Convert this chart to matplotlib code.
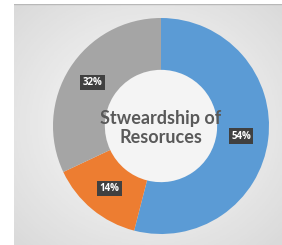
import numpy as np
import matplotlib.pyplot as plt

labels = ['Blue', 'Orange', 'Gray']
shares = [54, 14, 32]
colors = ['#5B9BD5', '#ED7D31', '#A5A5A5']
center_title = 'Stweardship of\nResoruces'

W, H = 282, 245
fig = plt.figure(figsize=(W / 100, H / 100), dpi=100)
fig.patch.set_facecolor('white')

# gradient background panel
bg = fig.add_axes([14 / W, 0, 1 - 14 / W, 1 - 4 / H])
yy, xx = np.mgrid[-1:1:200j, -1:1:200j]
rr = np.clip(np.sqrt(xx ** 2 + yy ** 2) / 1.4, 0, 1)
bg.imshow(rr, cmap='Greys', vmin=-0.3, vmax=5, extent=[0, 1, 0, 1], aspect='auto')
bg.set_xlim(0, 1)
bg.set_ylim(0, 1)
bg.axis('off')
bg.plot([0, 1], [1, 1], color='#b8b8b8', lw=1)

# donut
r = 108
cx, cy = 161, H - 126
ax = fig.add_axes([(cx - r) / W, (cy - r) / H, 2 * r / W, 2 * r / H])
wedges, _, autotexts = ax.pie(
    shares, colors=colors, startangle=90, counterclock=False,
    radius=1, wedgeprops=dict(width=0.48, edgecolor='none'),
    autopct='%d%%', pctdistance=0.75,
    textprops=dict(color='white', fontsize=7, fontweight='bold', family='Open Sans'))
for t in autotexts:
    t.set_bbox(dict(facecolor='#404040', edgecolor='none', pad=1.6))
ax.add_patch(plt.Circle((0, 0), 0.52, color='#f4f4f4', zorder=0))
ax.text(0, -0.02, center_title, ha='center', va='center', fontsize=13,
        fontweight='bold', color='#595959', family='Lato', linespacing=1.15)
ax.set_xlim(-1, 1)
ax.set_ylim(-1, 1)
ax.set_aspect('auto')
ax.axis('off')

fig.savefig('out.png', dpi=100, facecolor=fig.get_facecolor())
